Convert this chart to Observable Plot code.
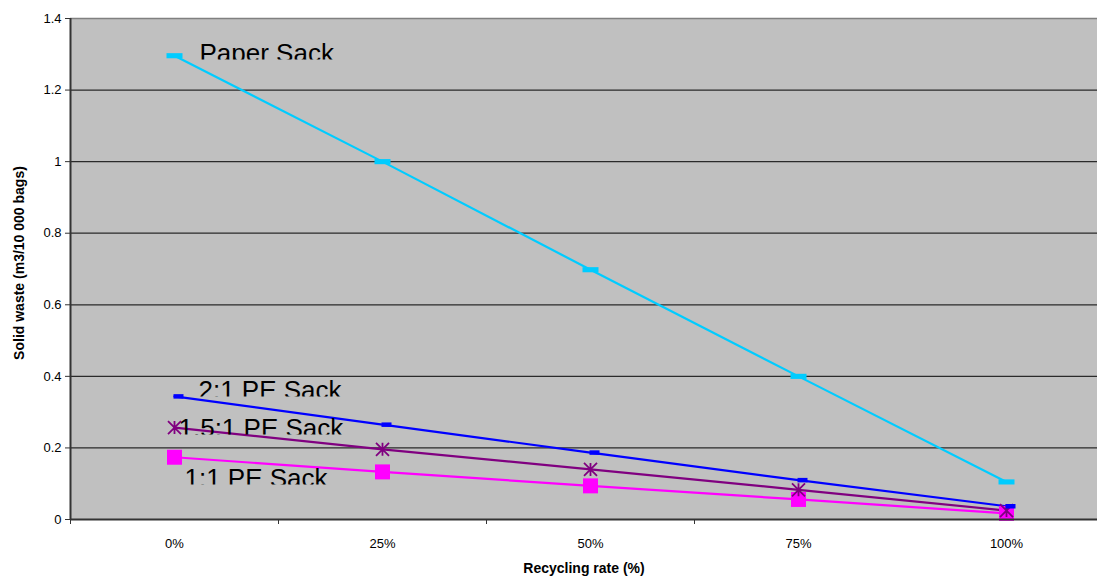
<!DOCTYPE html>
<html>
<head>
<meta charset="utf-8">
<script src="https://cdn.jsdelivr.net/npm/d3@7"></script>
<script src="https://cdn.jsdelivr.net/npm/@observablehq/plot@0.6"></script>
<style>
  html, body { margin: 0; padding: 0; background: #fff; }
  #chart svg { display: block; }
</style>
</head>
<body>
<div id="chart"></div>
<script>
// Recycling rate categories (x axis)
const rates = ["0%", "25%", "50%", "75%", "100%"];

// Solid waste, m3 per 10 000 bags, one value per recycling rate
const paperSack = [1.296, 1.0, 0.698, 0.4, 0.105];
const pe2to1    = [0.344, 0.265, 0.187, 0.110, 0.037];
const pe15to1   = [0.257, 0.196, 0.140, 0.083, 0.025];
const pe1to1    = [0.174, 0.133, 0.094, 0.056, 0.017];

const seriesNames = ["Paper Sack", "2:1 PE Sack", "1.5:1 PE Sack", "1:1 PE Sack"];
const seriesValues = [paperSack, pe2to1, pe15to1, pe1to1];

// y axis tick values
const yTicks = [0, 0.2, 0.4, 0.6, 0.8, 1, 1.2, 1.4];

// Marker shapes; r comes from the dot's r option
const radius = size => Math.sqrt(size / Math.PI);
const dash = {draw(ctx, size) { const r = radius(size); ctx.rect(-r, -r * 0.32, 2 * r, r * 0.64); }};
const shortDash = {draw(ctx, size) { const r = radius(size); ctx.rect(-r * 0.2, -r * 0.45, 2 * r, r * 0.9); }};
const star = {draw(ctx, size) {
  const r = radius(size);
  ctx.moveTo(-r, -r); ctx.lineTo(r, r);
  ctx.moveTo(-r, r); ctx.lineTo(r, -r);
  ctx.moveTo(0, -r); ctx.lineTo(0, r);
}};
const square = {draw(ctx, size) { const r = radius(size); ctx.rect(-r, -r, 2 * r, 2 * r); }};

// Per-series drawing style and label offset from the 0% point
const seriesStyle = {
  "Paper Sack":    {color: "#00ccff", symbol: dash,      r: 8,   filled: true,  dx: 25, dy: -2},
  "2:1 PE Sack":   {color: "#0000ff", symbol: shortDash, r: 5,   filled: true,  dx: 24, dy: -5.6},
  "1.5:1 PE Sack": {color: "#800080", symbol: star,      r: 6.5, filled: false, dx: 4,  dy: 1.3},
  "1:1 PE Sack":   {color: "#ff00ff", symbol: square,    r: 7.5, filled: true,  dx: 10, dy: 21.6}
};
const labelFontSize = 26;
const labelCutAboveBaseline = 2.6; // label boxes cut the text just above its baseline

const rows = seriesNames.flatMap((name, s) =>
  seriesValues[s].map((value, i) => ({series: name, i, rate: rates[i], value}))
);

const markerMarks = ["1:1 PE Sack", "1.5:1 PE Sack", "2:1 PE Sack", "Paper Sack"].map(name => {
  const st = seriesStyle[name];
  const data = rows.filter(d => d.series === name);
  return st.filled
    ? Plot.dot(data, {x: "i", y: "value", symbol: () => st.symbol, r: st.r, fill: st.color, stroke: "none"})
    : Plot.dot(data, {x: "i", y: "value", symbol: () => st.symbol, r: st.r, fill: "none", stroke: st.color, strokeWidth: 1.8});
});

const labelMarks = seriesNames.map(name => {
  const st = seriesStyle[name];
  return Plot.text(rows.filter(d => d.series === name && d.i === 0), {
    x: "i", y: "value", text: "series",
    textAnchor: "start", dx: st.dx, dy: st.dy,
    fontSize: labelFontSize, fill: "#000", className: "series-label"
  });
});

const chart = Plot.plot({
  width: 1097,
  height: 577,
  marginTop: 18,
  marginBottom: 58,
  marginLeft: 70,
  marginRight: 0,
  style: {fontFamily: "'Liberation Sans', Arial, sans-serif", fontSize: "13px", background: "#fff", overflow: "visible"},
  x: {type: "linear", domain: [-0.5, rates.length - 0.5], range: [70, 1110]},
  y: {domain: [0, 1.4]},
  color: {domain: seriesNames, range: seriesNames.map(n => seriesStyle[n].color)},
  marks: [
    Plot.frame({fill: "#c0c0c0", stroke: null}),
    Plot.ruleY(yTicks.slice(1, -1), {stroke: "#2a2a2a", strokeWidth: 1.2}),
    Plot.ruleY([1.4], {stroke: "#808080", strokeWidth: 1.5}),
    Plot.line(rows, {x: "i", y: "value", z: "series", stroke: "series", strokeWidth: 2.2}),
    ...markerMarks,
    ...labelMarks,
    Plot.ruleY([0], {stroke: "#333", strokeWidth: 2}),
    Plot.ruleX([-0.5], {stroke: "#333", strokeWidth: 2}),
    Plot.axisY({ticks: yTicks, tickSize: 5, tickPadding: 4, tickFormat: d => String(d), label: null, stroke: "#333"}),
    Plot.axisX({ticks: d3.range(rates.length - 1).map(i => i - 0.5), tickSize: 5, tickFormat: () => "", label: null, stroke: "#333"}),
    Plot.axisX({ticks: d3.range(rates.length), tickSize: 0, tickPadding: 19, tickFormat: i => rates[i], label: null}),
    Plot.text(["Solid waste (m3/10 000 bags)"], {frameAnchor: "left", textAnchor: "middle", dx: -51, dy: -6, rotate: -90, fontWeight: "bold", fontSize: 14}),
    Plot.text(["Recycling rate (%)"], {frameAnchor: "bottom", textAnchor: "middle", dy: 53, fontWeight: "bold", fontSize: 14})
  ]
});

document.getElementById("chart").appendChild(chart);

// Cut each series name off just above its baseline
const svg = d3.select(chart.tagName === "svg" ? chart : chart.querySelector("svg"));
const defs = svg.insert("defs", ":first-child");
svg.selectAll(".series-label text").each(function(_, k) {
  const bb = this.getBBox();
  const base = this.getNumberOfChars() ? this.getStartPositionOfChar(0).y : bb.y + bb.height;
  const id = "label-cut-" + k;
  defs.append("clipPath").attr("id", id).attr("clipPathUnits", "userSpaceOnUse")
    .append("rect")
    .attr("x", bb.x - 5).attr("y", bb.y - 5)
    .attr("width", bb.width + 10)
    .attr("height", Math.max(0, base - labelCutAboveBaseline - (bb.y - 5)));
  d3.select(this).attr("clip-path", `url(#${id})`);
});
</script>
</body>
</html>
